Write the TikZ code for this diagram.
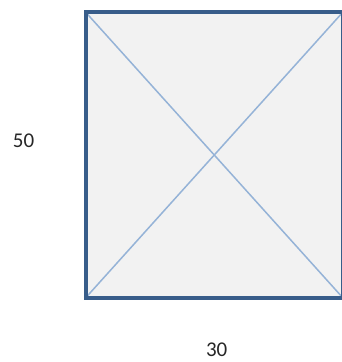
\documentclass[tikz,border=0pt]{standalone}
\usepackage{fontspec}
\setmainfont{Carlito}
\usetikzlibrary{positioning}
\definecolor{boxblue}{HTML}{385D8A}
\definecolor{diagblue}{HTML}{95B3D7}
\definecolor{boxfill}{HTML}{F2F2F2}
\tikzset{
  boxarea/.style={
    rectangle,
    fill=boxfill,
    minimum width=257.5pt,
    minimum height=286pt,
    inner sep=0pt, outer sep=0pt},
  boxline/.style={draw=boxblue, line width=4pt},
  diag/.style={draw=diagblue, line width=1.5pt},
  dimlabel/.style={font=\fontsize{21}{25}\selectfont, text=black!85, inner sep=0pt},
}

\begin{document}
\begin{tikzpicture}[x=1pt,y=1pt]
    \useasboundingbox (0,0) rectangle (341,362);

    \node [boxarea] (box) at (214.25,207) {};
    \draw [diag] (box.north west) -- (box.south east);
    \draw [diag] (box.south west) -- (box.north east);
    \draw [boxline] (box.north west) rectangle (box.south east);

    \node [dimlabel] (height) at (23.5,221) {50};
    \node [dimlabel] (width) at (216.7,12.3) {30};

\end{tikzpicture}
\end{document}
